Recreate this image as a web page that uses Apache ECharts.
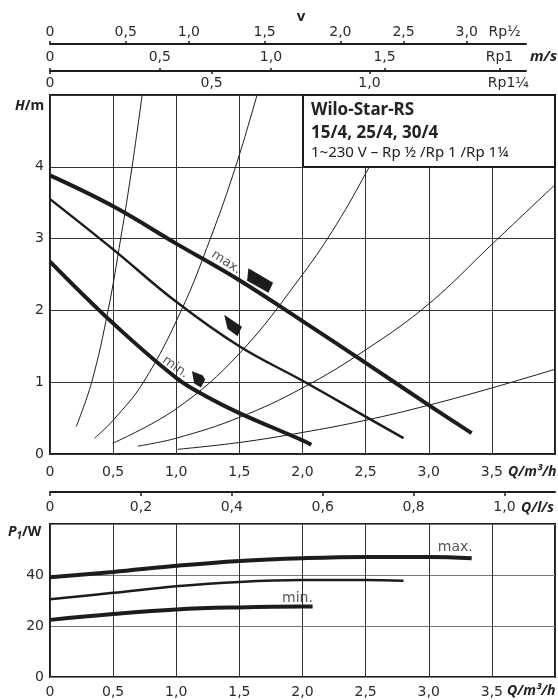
<!DOCTYPE html>
<html><head><meta charset="utf-8">
<script src="https://cdn.jsdelivr.net/npm/echarts@6/dist/echarts.min.js"></script>
<style>html,body{margin:0;padding:0;background:#fff}#c{width:558px;height:700px}</style>
</head><body><div id="c"></div>
<script>
// ---- data ----
const qMaxH = [[0,3.88],[0.5,3.45],[1.0,2.93],[1.5,2.42],[2.0,1.85],[2.5,1.27],[3.0,0.68],[3.34,0.29]];
const qMidH = [[0,3.55],[0.5,2.85],[1.0,2.12],[1.5,1.50],[2.0,1.02],[2.5,0.52],[2.8,0.22]];
const qMinH = [[0,2.68],[0.5,1.82],[1.0,1.06],[1.25,0.79],[1.5,0.57],[2.0,0.19],[2.07,0.13]];
const sys1 = [[0.207,0.38],[0.33,1.0],[0.46,2.0],[0.56,3.0],[0.65,4.0],[0.73,5.0]];
const sys2 = [[0.353,0.22],[0.5,0.47],[0.74,1.0],[1.04,2.0],[1.27,3.0],[1.47,4.0],[1.64,5.0]];
const sys3 = [[0.497,0.15],[1.0,0.63],[1.5,1.40],[2.0,2.50],[2.27,3.2],[2.52,3.97],[2.83,5.0]];
const sys4 = [[0.695,0.11],[1.0,0.22],[1.5,0.51],[2.0,0.92],[2.5,1.45],[3.0,2.09],[3.5,2.92],[4.0,3.75]];
const sys5 = [[1.01,0.065],[1.5,0.16],[2.0,0.30],[2.5,0.47],[3.0,0.68],[3.5,0.92],[4.0,1.18]];
const pMax = [[0,39.1],[0.5,41.2],[1.0,43.6],[1.5,45.5],[2.0,46.6],[2.5,47.1],[3.0,47.1],[3.34,46.6]];
const pMid = [[0,30.5],[0.5,33.0],[1.0,35.6],[1.5,37.3],[2.0,38.0],[2.5,38.0],[2.8,37.7]];
const pMin = [[0,22.4],[0.5,24.7],[1.0,26.5],[1.5,27.3],[2.0,27.6],[2.08,27.6]];
// velocity tick labels, positioned at the flow Q (m3/h) where they sit
const rpHalfTicks = [[0,'0'],[0.60,'0,5'],[1.10,'1,0'],[1.70,'1,5'],[2.30,'2,0'],[2.80,'2,5'],[3.30,'3,0']];
const rpHalfName = [[3.60,'Rp½']];
const rp1Ticks = [[0,'0'],[0.87,'0,5'],[1.75,'1,0'],[2.65,'1,5'],[3.56,'Rp1']];
const rp114Ticks = [[0,'0'],[1.28,'0,5'],[2.53,'1,0']];
const rp114Name = [[3.63,'Rp1¼']];
const lsTicks = [0,0.2,0.4,0.6,0.8,1.0];
const markerPos = [[1.664,2.416],[1.45,1.79],[1.177,1.04]];
const hLabels = [['max.',1.396,2.67,-33],['min.',0.993,1.21,-35]];
const pLabels = [['max.',3.21,50.7],['min.',1.96,31.0]];
const Q_MAX = 4, H_MAX = 5, P_MAX = 60, TOP_Q_MAX = 3.77;

// ---- chart ----
const chart = echarts.init(document.getElementById('c'));
const fmt = v => v === 0 ? '0' : v.toFixed(1).replace('.', ',');
const lookup = (arr, v) => { const t = arr.find(a => Math.abs(a[0] - v) < 1e-6); return t ? t[1] : ''; };
const lab = {fontFamily:'DejaVu Sans', fontSize:14, color:'#2b2b2b'};
const ink = '#1c1c1c';
const grid = '#333';

function velAxis(gridIndex, position, ticks, names, margin, showLine){
  const all = ticks.concat(names);
  return {type:'value', gridIndex, position, min:0, max:TOP_Q_MAX,
    axisLine:{show:showLine, lineStyle:{color:ink, width:2}},
    axisTick:{show:true, customValues:ticks.map(t=>t[0]), length:3, lineStyle:{color:ink, width:1.5}},
    axisLabel:Object.assign({customValues:all.map(t=>t[0]), margin, formatter:v=>lookup(all,v)}, lab),
    splitLine:{show:false}};
}
const hidY = i => ({type:'value', gridIndex:i, show:false, min:0, max:1});

const line = (data, w, xi, yi, z) => ({type:'line', data, xAxisIndex:xi, yAxisIndex:yi, smooth:0.4,
  symbol:'none', showSymbol:false, lineStyle:{color:ink, width:w}, z:z||3, silent:true});

const shapes = [
  {symbol:'path://M1.3,0 L25.6,14.4 L21,24.4 L0,12.4 Z', size:[26,24.4]},
  {symbol:'path://M0,0 L17.7,12 L13.3,21.4 L3.3,14 Z', size:[17.7,21.4]},
  {symbol:'path://M0,0 L10.6,4 L13.3,8.3 L9,16.3 L2.3,12.3 Z', size:[13.3,16.3]}
];

const option = {
  animation:false,
  backgroundColor:'#fff',
  grid:[
    {left:50, right:3, top:95, height:359, show:true, borderColor:ink, borderWidth:2},
    {left:50, right:3, top:524, height:153, show:true, borderColor:ink, borderWidth:2},
    {left:50, width:476, top:43, height:1},
    {left:50, width:476, top:70, height:1},
    {left:50, right:3, top:491, height:1}
  ],
  xAxis:[
    {type:'value', gridIndex:0, min:0, max:Q_MAX, interval:0.5,
      axisLine:{show:false}, axisTick:{show:false},
      axisLabel:Object.assign({margin:11, showMaxLabel:false, formatter:fmt}, lab),
      splitLine:{show:true, lineStyle:{color:grid, width:1}}},
    {type:'value', gridIndex:1, min:0, max:Q_MAX, interval:0.5,
      axisLine:{show:false}, axisTick:{show:false},
      axisLabel:Object.assign({margin:8, showMaxLabel:false, formatter:fmt}, lab),
      splitLine:{show:true, lineStyle:{color:grid, width:1}}},
    velAxis(2, 'top', rpHalfTicks, rpHalfName, 4, true),
    velAxis(3, 'top', rp1Ticks, [], 6, true),
    velAxis(3, 'bottom', rp114Ticks, rp114Name, 5, false),
    {type:'value', gridIndex:4, position:'bottom', min:0, max:Q_MAX/3.6,
      axisLine:{show:true, lineStyle:{color:ink, width:2}},
      axisTick:{show:true, customValues:lsTicks, length:4, lineStyle:{color:ink, width:1.5}},
      axisLabel:Object.assign({customValues:lsTicks, margin:8, formatter:fmt}, lab),
      splitLine:{show:false}}
  ],
  yAxis:[
    {type:'value', gridIndex:0, min:0, max:H_MAX, interval:1,
      axisLine:{show:false}, axisTick:{show:false},
      axisLabel:Object.assign({margin:6, showMaxLabel:false}, lab),
      splitLine:{show:true, lineStyle:{color:grid, width:1}}},
    {type:'value', gridIndex:1, min:0, max:P_MAX, interval:20,
      axisLine:{show:false}, axisTick:{show:false},
      axisLabel:Object.assign({margin:6, showMaxLabel:false}, lab),
      splitLine:{show:true, lineStyle:{color:'#777', width:1}}},
    hidY(2), hidY(3), hidY(4)
  ],
  series:[
    line(sys1,1,0,0,2), line(sys2,1,0,0,2), line(sys3,1,0,0,2), line(sys4,1,0,0,2), line(sys5,1,0,0,2),
    line(qMaxH,4,0,0,4), line(qMidH,2.5,0,0,4), line(qMinH,4,0,0,4),
    line(pMax,4,1,1,4), line(pMid,2.5,1,1,4), line(pMin,4,1,1,4),
    {type:'scatter', xAxisIndex:0, yAxisIndex:0, silent:true, z:5,
      itemStyle:{color:ink, opacity:1},
      data:markerPos.map((p,i)=>({value:p, symbol:shapes[i].symbol, symbolSize:shapes[i].size}))},
    {type:'scatter', xAxisIndex:0, yAxisIndex:0, silent:true, z:6, symbolSize:0,
      data:hLabels.map(l=>({value:[l[1],l[2]], name:l[0],
        label:{show:true, position:'inside', formatter:l[0], rotate:l[3], fontFamily:'DejaVu Sans', fontSize:13, color:'#2b2b2b'}}))},
    {type:'scatter', xAxisIndex:1, yAxisIndex:1, silent:true, z:6, symbolSize:0,
      data:pLabels.map(l=>({value:[l[1],l[2]], name:l[0],
        label:{show:true, position:'inside', formatter:l[0], fontFamily:'DejaVu Sans', fontSize:14, color:'#2b2b2b'}}))}
  ],
  graphic:[
    {type:'rect', z:100, shape:{x:303, y:95, width:252, height:72}, style:{fill:'#fff', stroke:ink, lineWidth:2}},
    {type:'text', z:101, x:311, y:110, style:{text:'Wilo-Star-RS', font:'bold 17px "Noto Sans"', fill:'#222', verticalAlign:'middle'}},
    {type:'text', z:101, x:311, y:133, style:{text:'15/4, 25/4, 30/4', font:'bold 17px "Noto Sans"', fill:'#222', verticalAlign:'middle'}},
    {type:'text', z:101, x:311, y:153, style:{text:'1~230 V – Rp ½ /Rp 1 /Rp 1¼', font:'15px "Noto Sans"', fill:'#222', verticalAlign:'middle'}},
    {type:'text', z:101, x:301, y:17, style:{text:'v', font:'bold 15px "Noto Sans"', fill:'#222', align:'center', verticalAlign:'middle'}},
    {type:'text', z:101, x:530, y:57, style:{text:'m/s', font:'bold italic 15px "Noto Sans"', fill:'#222', verticalAlign:'middle'}},
    {type:'text', z:101, x:15, y:106, style:{text:'{i|H}/m', font:'bold 14px "Noto Sans"', fill:'#222', verticalAlign:'middle',
      rich:{i:{font:'bold italic 14px "Noto Sans"', fill:'#222'}}}},
    {type:'text', z:101, x:8, y:532, style:{text:'{i|P}{s|1}/W', font:'bold 14px "Noto Sans"', fill:'#222', verticalAlign:'middle',
      rich:{i:{font:'bold italic 14px "Noto Sans"', fill:'#222', lineHeight:18}, s:{font:'bold italic 10px "Noto Sans"', fill:'#222', lineHeight:18, verticalAlign:'bottom'}}}},
    {type:'text', z:101, x:508, y:472, style:{text:'Q/m³/h', font:'bold italic 14px "Noto Sans"', fill:'#222', verticalAlign:'middle'}},
    {type:'text', z:101, x:521, y:508, style:{text:'Q/l/s', font:'bold italic 14px "Noto Sans"', fill:'#222', verticalAlign:'middle'}},
    {type:'text', z:101, x:507, y:691, style:{text:'Q/m³/h', font:'bold italic 14px "Noto Sans"', fill:'#222', verticalAlign:'middle'}}
  ]
};
chart.setOption(option);
</script>
</body></html>
